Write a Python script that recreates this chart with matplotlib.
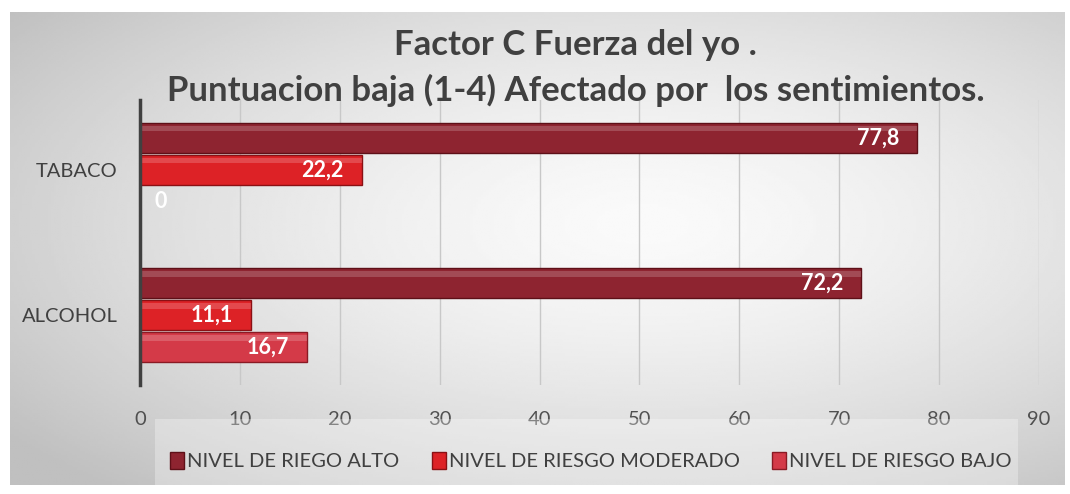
import matplotlib.pyplot as plt
import numpy as np
from matplotlib.patches import Rectangle

categorias = ['ALCOHOL', 'TABACO']
series = ['NIVEL DE RIEGO ALTO', 'NIVEL DE RIESGO MODERADO', 'NIVEL DE RIESGO BAJO']
alto = [72.2, 77.8]
moderado = [11.1, 22.2]
bajo = [16.7, 0]
etiquetas_x = [0, 10, 20, 30, 40, 50, 60, 70, 80, 90]

colores = ['#8e2430', '#dd2226', '#d43a48']
bordes = ['#5e1018', '#8a1014', '#8a1a24']

plt.rcParams['font.family'] = ['Lato', 'DejaVu Sans']

fig = plt.figure(figsize=(10.7, 4.94), dpi=100)

# fondo degradado del marco
bg = fig.add_axes([10 / 1070, 1 - 485 / 494, 1055 / 1070, 473 / 494])
yy, xx = np.mgrid[0:1:200j, 0:1:400j]
r = np.sqrt(((xx - 0.6) / 0.8) ** 2 + ((yy - 0.45) / 0.8) ** 2)
bg.imshow(np.clip(0.98 - 0.25 * r ** 1.5, 0.75, 1), cmap='gray', vmin=0, vmax=1,
          aspect='auto', extent=[0, 1, 0, 1])
bg.set_axis_off()

ax = fig.add_axes([140 / 1070, 1 - 385 / 494, 899 / 1070, 285 / 494])
ax.patch.set_alpha(0)

y = np.arange(len(categorias))
h = 0.215
offs = [h * 1.02, 0, -h * 1.02]
datos = [alto, moderado, bajo]
for i, (vals, off) in enumerate(zip(datos, offs)):
    bars = ax.barh(y + off, vals, height=h * 0.95, color=colores[i],
                   edgecolor=bordes[i], linewidth=1.0, label=series[i], zorder=3)
    # brillo superior
    ax.barh(y + off + h * 0.3, vals, height=h * 0.18, color='white',
            alpha=0.18, linewidth=0, zorder=4)
    for b, v in zip(bars, vals):
        txt = ('%.1f' % v).replace('.', ',') if v else '0'
        if v > 5:
            ax.text(v - 1.8, b.get_y() + b.get_height() / 2, txt, ha='right',
                    va='center', color='white', fontsize=15.5, fontweight='bold', zorder=5)
        else:
            ax.text(1.5, b.get_y() + b.get_height() / 2, txt, ha='left',
                    va='center', color='white', fontsize=15.5, fontweight='bold', zorder=5)

ax.set_xlim(0, 90)
ax.set_ylim(-0.48, 1.48)
ax.set_xticks(etiquetas_x)
ax.set_yticks(y)
ax.set_yticklabels(categorias)
ax.tick_params(axis='x', length=0, labelsize=14.5, labelcolor='#505050', pad=19)
ax.tick_params(axis='y', length=0, labelsize=14.5, labelcolor='#404040', pad=16)
ax.grid(axis='x', color='#c8c8c8', linewidth=1, zorder=0)
for s in ['top', 'right', 'bottom']:
    ax.spines[s].set_visible(False)
ax.spines['left'].set_color('#404040')
ax.spines['left'].set_linewidth(2.5)
ax.spines['left'].set_zorder(6)

# caja clara de la leyenda, encima de las etiquetas del eje
fig.patches.append(Rectangle((155 / 1070, 1 - 485 / 494), 863 / 1070, 66 / 494,
                             transform=fig.transFigure, facecolor='white',
                             alpha=0.3, edgecolor='none', zorder=5))

fig.text(0.538, 1 - 45 / 494, 'Factor C Fuerza del yo .', ha='center', va='center',
         fontsize=25, fontweight='bold', color='#404040')
fig.text(0.538, 1 - 90 / 494, 'Puntuacion baja (1-4) Afectado por  los sentimientos.',
         ha='center', va='center', fontsize=25, fontweight='bold', color='#404040')

leg = fig.legend(loc='center', bbox_to_anchor=(591 / 1070, 1 - 461 / 494), ncol=3,
                 frameon=False, fontsize=14.5, handlelength=0.7, handleheight=0.9,
                 handletextpad=0.15, columnspacing=1.6)
leg.set_zorder(6)
for t in leg.get_texts():
    t.set_color('#404040')

fig.savefig('out.png', dpi=100)
